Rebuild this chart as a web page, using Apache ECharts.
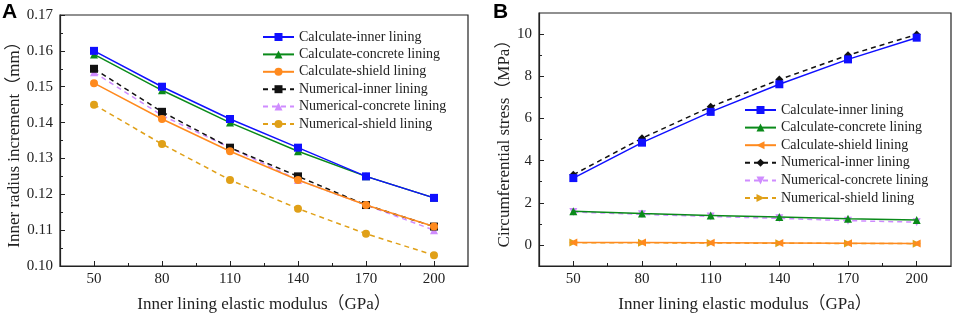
<!DOCTYPE html>
<html>
<head>
<meta charset="utf-8">
<script src="https://cdn.jsdelivr.net/npm/echarts@6/dist/echarts.min.js"></script>
<style>html,body{margin:0;padding:0;background:#fff;}#c{width:955px;height:316px;}</style>
</head>
<body>
<div id="c"></div>
<script>
// ---------- data ----------
const modulus = [50, 80, 110, 140, 170, 200];
const xMinorTicks = [65, 95, 125, 155, 185];

// Panel A: inner radius increment (mm)
const aCalcInner    = [0.160, 0.150, 0.141, 0.133, 0.125, 0.119];
const aCalcConcrete = [0.159, 0.149, 0.140, 0.132, 0.125, 0.119];
const aCalcShield   = [0.151, 0.141, 0.132, 0.124, 0.117, 0.111];
const aNumInner     = [0.155, 0.143, 0.133, 0.125, 0.117, 0.111];
const aNumConcrete  = [0.154, 0.142, 0.133, 0.124, 0.117, 0.110];
const aNumShield    = [0.145, 0.134, 0.124, 0.116, 0.109, 0.103];

// Panel B: circumferential stress (MPa)
const bCalcInner    = [3.17, 4.85, 6.31, 7.62, 8.80, 9.83];
const bCalcConcrete = [1.60, 1.49, 1.40, 1.32, 1.24, 1.18];
const bCalcShield   = [0.12, 0.11, 0.10, 0.09, 0.08, 0.07];
const bNumInner     = [3.33, 5.06, 6.55, 7.84, 9.00, 9.98];
const bNumConcrete  = [1.56, 1.45, 1.35, 1.26, 1.15, 1.08];
const bNumShield    = [0.11, 0.10, 0.09, 0.08, 0.07, 0.06];

const bYLabels = [0, 2, 4, 6, 8, 10];
const bYMinor  = [1, 3, 5, 7, 9];

const seriesNames = [
  'Calculate-inner lining', 'Calculate-concrete lining', 'Calculate-shield lining',
  'Numerical-inner lining', 'Numerical-concrete lining', 'Numerical-shield lining'
];

// ---------- style ----------
const FONT = '"Liberation Serif", "Times New Roman", "Noto Sans CJK SC", serif';
const AX = '#222';
const colors = ['#1010ff', '#0a8a1a', '#ff8a1e', '#111111', '#cf8cff', '#e0a018'];

function pairs(vals) { return modulus.map((x, i) => [x, vals[i]]); }

function mkSeries(prefix, name, vals, idx, symbol, rot, dashed, gi) {
  return {
    type: 'line', name: prefix + name, data: pairs(vals),
    xAxisIndex: gi * 2, yAxisIndex: gi * 2,
    symbol: symbol, symbolRotate: rot, symbolSize: 8,
    color: colors[idx],
    lineStyle: { width: 1.5, color: colors[idx], type: dashed ? [5, 4] : 'solid' },
    itemStyle: { color: colors[idx] },
    z: 10 - idx
  };
}

const baseLabel = { fontFamily: FONT, fontSize: 15, color: AX };
const nameStyle = { fontFamily: FONT, fontSize: 17, color: AX };

function xAxes(gi) {
  return [
    {
      type: 'value', gridIndex: gi, min: 35, max: 215,
      name: 'Inner lining elastic modulus（GPa）', nameLocation: 'middle', nameGap: 30,
      nameTextStyle: nameStyle,
      axisLine: { show: true, onZero: false, lineStyle: { color: AX, width: 1.2 } },
      axisTick: { show: true, inside: true, length: 5, customValues: modulus, lineStyle: { color: AX } },
      axisLabel: Object.assign({ margin: 6, customValues: modulus }, baseLabel),
      splitLine: { show: false }
    },
    {
      type: 'value', gridIndex: gi, min: 35, max: 215, position: 'bottom',
      axisLine: { show: false, onZero: false },
      axisTick: { show: true, inside: true, length: 3, customValues: xMinorTicks, lineStyle: { color: AX } },
      axisLabel: { show: false },
      splitLine: { show: false }
    }
  ];
}

const option = {
  animation: false,
  backgroundColor: '#fff',
  graphic: [
    { type: 'text', left: 2, top: 2, style: { text: 'A', font: 'bold 21px "Liberation Sans", Arial, sans-serif', fill: '#000' } },
    { type: 'text', left: 493, top: 2, style: { text: 'B', font: 'bold 21px "Liberation Sans", Arial, sans-serif', fill: '#000' } }
  ],
  grid: [
    { left: 60, right: 487, top: 15, bottom: 50, outerBoundsMode: 'none', containLabel: false, show: true, borderColor: AX, borderWidth: 1.2, backgroundColor: 'transparent' },
    { left: 539, right: 4, top: 13, bottom: 50, outerBoundsMode: 'none', containLabel: false, show: true, borderColor: AX, borderWidth: 1.2, backgroundColor: 'transparent' }
  ],
  xAxis: [].concat(xAxes(0), xAxes(1)),
  yAxis: [
    {
      type: 'value', gridIndex: 0, min: 0.10, max: 0.17, interval: 0.01,
      name: 'Inner radius increment（mm）', nameLocation: 'middle', nameGap: 31,
      nameTextStyle: nameStyle,
      axisLine: { show: true, lineStyle: { color: AX, width: 1.2 } },
      axisTick: { show: true, inside: true, length: 5, lineStyle: { color: AX } },
      minorTick: { show: true, splitNumber: 2, length: 3, lineStyle: { color: AX } },
      axisLabel: Object.assign({ margin: 7, formatter: v => v.toFixed(2) }, baseLabel),
      splitLine: { show: false }
    },
    { type: 'value', gridIndex: 0, min: 0.10, max: 0.17, interval: 0.01, show: false },
    {
      type: 'value', gridIndex: 1, min: -1, max: 11,
      name: 'Circumferential stress（MPa）', nameLocation: 'middle', nameGap: 20,
      nameTextStyle: nameStyle,
      axisLine: { show: true, onZero: false, lineStyle: { color: AX, width: 1.2 } },
      axisTick: { show: true, inside: true, length: 5, customValues: bYLabels, lineStyle: { color: AX } },
      axisLabel: Object.assign({ margin: 7, customValues: bYLabels }, baseLabel),
      splitLine: { show: false }
    },
    {
      type: 'value', gridIndex: 1, min: -1, max: 11, position: 'left',
      axisLine: { show: false, onZero: false },
      axisTick: { show: true, inside: true, length: 3, customValues: bYMinor, lineStyle: { color: AX } },
      axisLabel: { show: false },
      splitLine: { show: false }
    }
  ],
  legend: [
    {
      data: seriesNames.map(n => 'A:' + n),
      formatter: n => n.slice(2),
      orient: 'vertical', left: 262, top: 30, padding: 0, itemWidth: 31, itemHeight: 10, itemGap: 3.4,
      textStyle: { fontFamily: FONT, fontSize: 14, color: AX, lineHeight: 14 },
      selectedMode: false
    },
    {
      data: seriesNames.map(n => 'B:' + n),
      formatter: n => n.slice(2),
      orient: 'vertical', left: 744, top: 103, padding: 0, itemWidth: 31, itemHeight: 10, itemGap: 3.6,
      textStyle: { fontFamily: FONT, fontSize: 14, color: AX, lineHeight: 14 },
      selectedMode: false
    }
  ],
  series: [
    mkSeries('A:', seriesNames[0], aCalcInner, 0, 'rect', 0, false, 0),
    mkSeries('A:', seriesNames[1], aCalcConcrete, 1, 'triangle', 0, false, 0),
    mkSeries('A:', seriesNames[2], aCalcShield, 2, 'circle', 0, false, 0),
    mkSeries('A:', seriesNames[3], aNumInner, 3, 'rect', 0, true, 0),
    mkSeries('A:', seriesNames[4], aNumConcrete, 4, 'triangle', 0, true, 0),
    mkSeries('A:', seriesNames[5], aNumShield, 5, 'circle', 0, true, 0),
    mkSeries('B:', seriesNames[0], bCalcInner, 0, 'rect', 0, false, 1),
    mkSeries('B:', seriesNames[1], bCalcConcrete, 1, 'triangle', 0, false, 1),
    mkSeries('B:', seriesNames[2], bCalcShield, 2, 'triangle', 90, false, 1),
    mkSeries('B:', seriesNames[3], bNumInner, 3, 'diamond', 0, true, 1),
    mkSeries('B:', seriesNames[4], bNumConcrete, 4, 'triangle', 180, true, 1),
    mkSeries('B:', seriesNames[5], bNumShield, 5, 'triangle', -90, true, 1)
  ]
};

const chart = echarts.init(document.getElementById('c'), null, { renderer: 'canvas' });
chart.setOption(option);
</script>
</body>
</html>
